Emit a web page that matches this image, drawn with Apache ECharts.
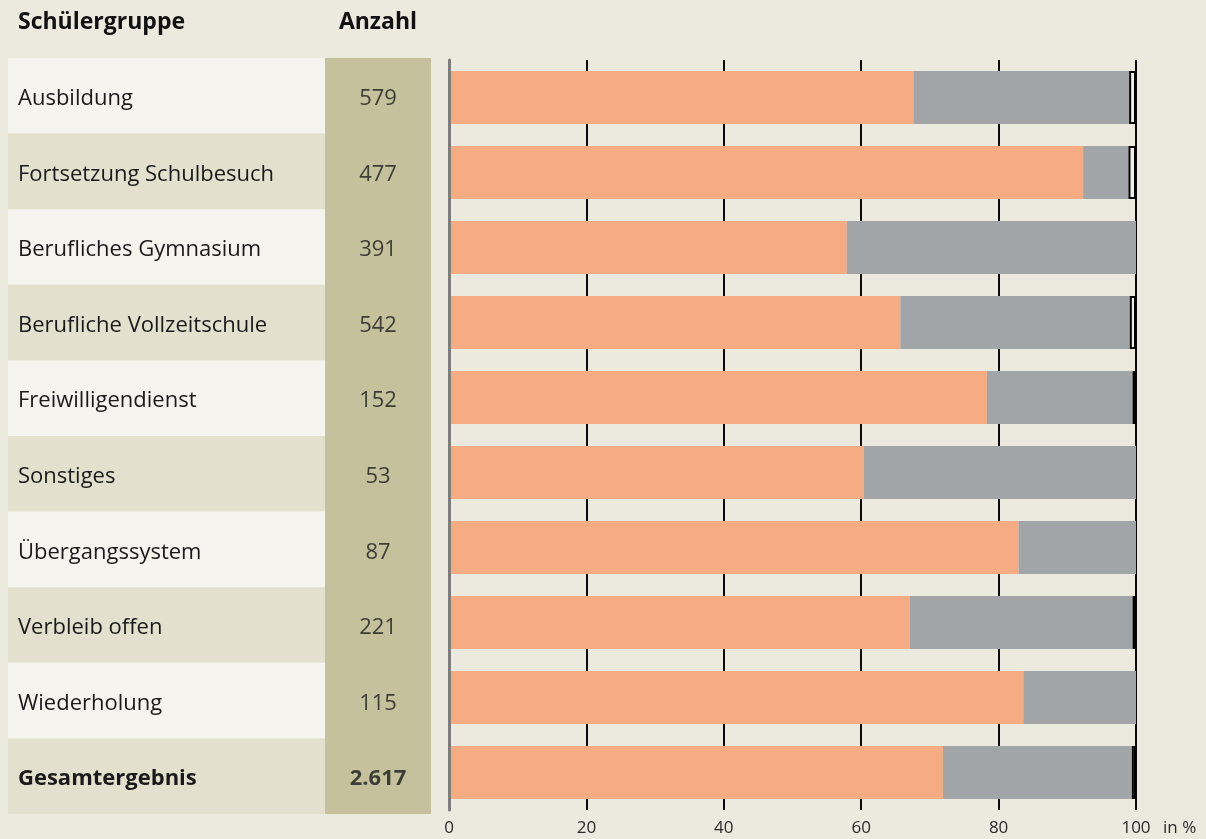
<!DOCTYPE html>
<html>
<head>
<meta charset="utf-8">
<script src="https://cdn.jsdelivr.net/npm/echarts@6/dist/echarts.min.js"></script>
<style>
  html, body { margin: 0; padding: 0; background: #ECE9DE; }
  #chart { width: 1206px; height: 839px; }
</style>
</head>
<body>
<div id="chart"></div>
<script>
// Schülergruppen (rows, top to bottom)
const categories = [
  'Ausbildung', 'Fortsetzung Schulbesuch', 'Berufliches Gymnasium',
  'Berufliche Vollzeitschule', 'Freiwilligendienst', 'Sonstiges',
  'Übergangssystem', 'Verbleib offen', 'Wiederholung', 'Gesamtergebnis'
];
// Anzahl der Schülerinnen und Schüler je Gruppe
const counts = [579, 477, 391, 542, 152, 53, 87, 221, 115, 2617];
// Anteile in % (drei gestapelte Segmente)
const shareOrange = [67.6, 92.3, 57.9, 65.7, 78.3, 60.4, 82.9, 67.1, 83.6, 71.9];
const shareGray   = [31.4, 6.6, 42.1, 33.4, 21.2, 39.6, 17.1, 32.4, 16.4, 27.5];
const shareRest   = [1.0, 1.1, null, 0.9, 0.5, null, null, 0.5, null, 0.6];
// Achsenbeschriftung
const xTicks = [0, 20, 40, 60, 80, 100];
const headerGroup = 'Schülergruppe';
const headerCount = 'Anzahl';
const unitLabel = 'in %';

const FONT = "'Open Sans', 'Noto Sans', sans-serif";
const TOTAL = 'Gesamtergebnis';
const TEXT_SIZE = 22;

function fmtDe(n) {
  return String(n).replace(/\B(?=(\d{3})+(?!\d))/g, '.');
}

const chart = echarts.init(document.getElementById('chart'), null, { renderer: 'canvas' });

const option = {
  backgroundColor: '#ECE9DE',
  animation: false,
  textStyle: { fontFamily: FONT },
  graphic: [
    { type: 'text', x: 18, y: 22,
      style: { text: headerGroup, font: 'bold 23px ' + FONT, fill: '#111', align: 'left', verticalAlign: 'middle' } },
    { type: 'text', x: 378, y: 22,
      style: { text: headerCount, font: 'bold 23px ' + FONT, fill: '#111', align: 'center', verticalAlign: 'middle' } }
  ],
  grid: [
    // label column
    { left: 8, top: 58, width: 317, height: 756, containLabel: false },
    // count column
    { left: 325, top: 58, width: 106, height: 756, show: true, backgroundColor: '#C5C19D', borderWidth: 0 },
    // stacked bars
    { left: 449, top: 60, width: 687, height: 750 }
  ],
  xAxis: [
    { gridIndex: 0, type: 'value', show: false, min: 0, max: 1 },
    { gridIndex: 1, type: 'value', show: false, min: -1, max: 1 },
    { gridIndex: 2, type: 'value', min: xTicks[0], max: xTicks[xTicks.length - 1],
      interval: xTicks[1] - xTicks[0],
      axisLine: { show: false }, axisTick: { show: false },
      axisLabel: { fontSize: 17, color: '#2a2a2a', margin: 10, fontFamily: FONT },
      splitLine: { show: true, lineStyle: { color: '#0a0a0a', width: 2 } },
      name: unitLabel, nameLocation: 'end', nameGap: 27,
      nameTextStyle: { fontSize: 17, color: '#2a2a2a', fontFamily: FONT,
        verticalAlign: 'top', align: 'left', padding: [10, 0, 0, 0] }
    }
  ],
  yAxis: [
    { gridIndex: 0, type: 'category', inverse: true,
      data: categories,
      axisLine: { show: false }, axisTick: { show: false },
      axisLabel: { inside: true, margin: 10, fontFamily: FONT,
        formatter: v => (v === TOTAL ? '{b|' : '{n|') + v + '}',
        rich: {
          n: { fontSize: TEXT_SIZE, color: '#1a1a1a', fontFamily: FONT, padding: [6, 0, 0, 0] },
          b: { fontSize: TEXT_SIZE, color: '#1a1a1a', fontFamily: FONT, fontWeight: 'bold', padding: [6, 0, 0, 0] }
        }
      },
      splitLine: { show: false },
      splitArea: { show: true, areaStyle: { color: ['#F5F4EE', '#E3E0CE'] } }
    },
    { gridIndex: 1, type: 'category', inverse: true, data: categories, show: false },
    { gridIndex: 2, type: 'category', inverse: true, data: categories,
      axisLabel: { show: false }, axisTick: { show: false },
      axisLine: { show: true, lineStyle: { color: '#7d7d7d', width: 3 } },
      z: 5
    }
  ],
  series: [
    {
      type: 'scatter', xAxisIndex: 1, yAxisIndex: 1,
      symbolSize: 1, itemStyle: { color: 'transparent' },
      data: counts.map((n, i) => ({
        value: [0, i],
        label: { fontWeight: categories[i] === TOTAL ? 'bold' : 'normal' }
      })),
      label: {
        show: true, position: 'inside', offset: [0, 3],
        fontSize: TEXT_SIZE, color: '#1a1a1a', fontFamily: FONT,
        formatter: p => fmtDe(counts[p.dataIndex])
      },
      silent: true
    },
    {
      type: 'bar', xAxisIndex: 2, yAxisIndex: 2, stack: 'share', barWidth: 53,
      itemStyle: { color: '#F6AC82' }, data: shareOrange
    },
    {
      type: 'bar', xAxisIndex: 2, yAxisIndex: 2, stack: 'share', barWidth: 53,
      itemStyle: { color: '#A2A5A8' }, data: shareGray
    },
    {
      type: 'bar', xAxisIndex: 2, yAxisIndex: 2, stack: 'share', barWidth: 53,
      itemStyle: { color: '#F2F0E6', borderColor: '#000', borderWidth: 2 },
      data: shareRest.map(v => v == null ? '-' : v)
    }
  ]
};

chart.setOption(option);
</script>
</body>
</html>
